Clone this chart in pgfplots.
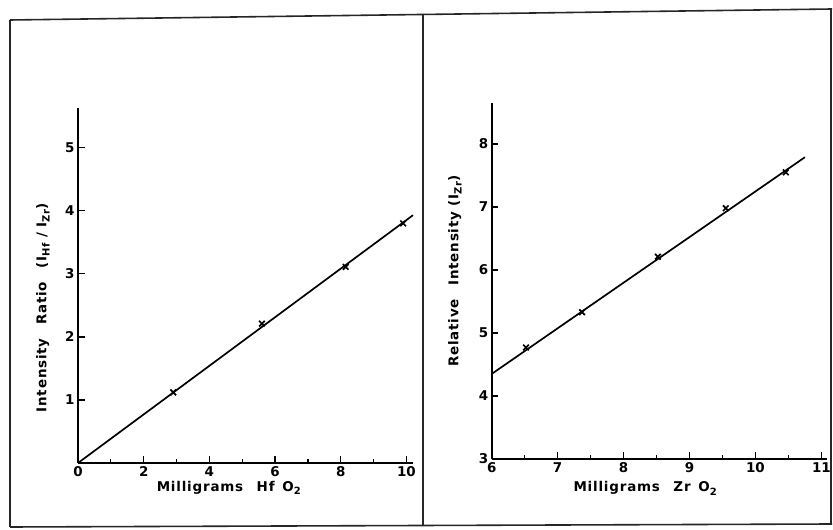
\documentclass[border=0pt]{standalone}
\usepackage{pgfplots}
\pgfplotsset{compat=1.18}
\usepackage{fontspec}
\setmainfont{DejaVu Sans}
\newcommand{\lab}{\fontsize{13.5}{15}\selectfont\bfseries\addfontfeature{LetterSpace=6}}
\newcommand{\sub}[1]{\raisebox{-0.45ex}{\fontsize{10}{11}\selectfont #1}}
\pgfplotsset{
  common/.style={
    scale only axis,
    anchor=south west,
    axis lines=left,
    axis line style={-, line width=1.7pt},
    tick style={line width=1.3pt, black},
    major tick length=6.5bp,
    minor tick length=4bp,
    minor x tick num=1,
    tick align=inside,
    /pgf/number format/assume math mode=true,
    ticklabel style={font=\fontsize{13.5}{14}\selectfont\bfseries},
    label style={font=\lab},
    clip=false,
  },
  pts/.style={only marks, mark=x, mark size=4pt, mark options={line width=1.7pt, black}},
  fit/.style={black, line width=1.7pt, no marks},
}
\begin{document}
\begin{tikzpicture}
\path[use as bounding box] (0bp,0bp) rectangle (833bp,530bp);
% frame of the two panels
\draw[line width=1.6pt, black!85] (10bp,510bp) -- (832bp,521bp);
\draw[line width=1.6pt, black!85] (10bp,3bp) -- (832bp,6bp);
\draw[line width=1.6pt, black!85] (10bp,3bp) -- (10bp,510bp);
\draw[line width=1.6pt, black!85] (831bp,6bp) -- (831bp,521bp);
\draw[line width=1.4pt, black!85] (423bp,4bp) -- (423bp,516bp);

\begin{axis}[common,
  at={(78bp,67bp)},
  width=335bp, height=355bp,
  xmin=0, xmax=10.2, ymin=0, ymax=5.63,
  xtick={0,2,4,6,8,10},
  ytick={1,2,3,4,5},
  xlabel={Milligrams\quad Hf\, O\sub{2}},
  ylabel={Intensity\quad Ratio\quad (I\sub{Hf} / I\sub{Zr})},
  xlabel style={at={(axis description cs:0.45,-0.07)}, anchor=center},
  ylabel style={at={(axis description cs:-0.105,0.437)}, anchor=center},
]
\addplot[fit] coordinates {(0,0) (10.2,3.93)};
\addplot[pts] coordinates {(2.9,1.12) (5.6,2.21) (8.15,3.11) (9.9,3.8)};
\end{axis}

\begin{axis}[common,
  at={(491.7bp,71bp)},
  width=335bp, height=356bp,
  xmin=6, xmax=11.08, ymin=3, ymax=8.65,
  xtick={6,7,8,9,10,11},
  ytick={3,4,5,6,7,8},
  xlabel={Milligrams\quad Zr\, O\sub{2}},
  ylabel={Relative\quad Intensity\ (I\sub{Zr})},
  xlabel style={at={(axis description cs:0.458,-0.083)}, anchor=center},
  ylabel style={at={(axis description cs:-0.11,0.528)}, anchor=center},
]
\addplot[fit] coordinates {(6,4.35) (10.75,7.79)};
\addplot[pts] coordinates {(6.52,4.77) (7.37,5.33) (8.52,6.21) (9.55,6.98) (10.46,7.55)};
\end{axis}
\end{tikzpicture}
\end{document}
